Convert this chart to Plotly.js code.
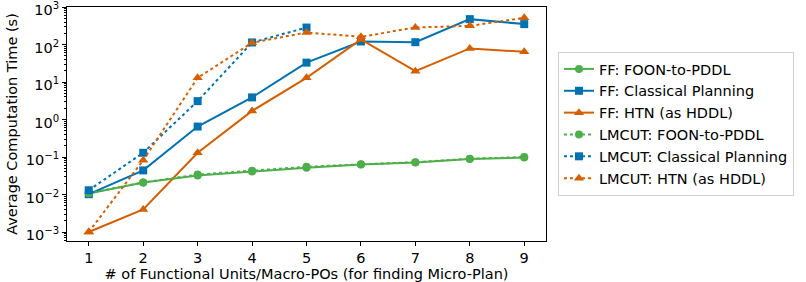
<!DOCTYPE html>
<html>
<head>
<meta charset="utf-8">
<script src="https://cdn.plot.ly/plotly-3.0.1.min.js"></script>
<style>html,body{margin:0;padding:0;background:#fff;}#chart{width:806px;height:282px;}</style>
</head>
<body>
<div id="chart"></div>
<script>
const xAll = [1, 2, 3, 4, 5, 6, 7, 8, 9];
const xClassicalLmcut = [1, 2, 3, 4, 5];

const ffFoon = [0.0106, 0.021, 0.032, 0.041, 0.052, 0.063, 0.072, 0.089, 0.097];
const ffClassical = [0.0102, 0.044, 0.65, 3.9, 33, 121, 116, 478, 352];
const ffHtn = [0.001, 0.004, 0.13, 1.7, 13, 137, 19.5, 79, 64];
const lmcutFoon = [0.0108, 0.021, 0.034, 0.043, 0.055, 0.064, 0.073, 0.09, 0.1];
const lmcutClassical = [0.013, 0.13, 3.1, 114, 285];
const lmcutHtn = [0.001, 0.082, 13, 112, 211, 161, 286, 316, 518];

const seriesNames = ["FF: FOON-to-PDDL", "FF: Classical Planning", "FF: HTN (as HDDL)",
  "LMCUT: FOON-to-PDDL", "LMCUT: Classical Planning", "LMCUT: HTN (as HDDL)"];

const yTickVals = [0.001, 0.01, 0.1, 1, 10, 100, 1000];
const yTickText = ["10<sup>−3</sup>", "10<sup>−2</sup>", "10<sup>−1</sup>", "10<sup>0</sup>", "10<sup>1</sup>", "10<sup>2</sup>", "10<sup>3</sup>"];

const GREEN = "#4daf4a", BLUE = "#0072b2", ORANGE = "#d55e00";

function tr(x, y, name, color, dash, symbol) {
  return {
    x: x, y: y, name: name, type: "scatter", mode: "lines+markers",
    line: {color: color, width: 2, dash: dash},
    marker: {color: color, symbol: symbol, size: symbol === "triangle-up" ? 9 : 8}
  };
}

const data = [
  tr(xAll, ffFoon, seriesNames[0], GREEN, "solid", "circle"),
  tr(xAll, ffClassical, seriesNames[1], BLUE, "solid", "square"),
  tr(xAll, ffHtn, seriesNames[2], ORANGE, "solid", "triangle-up"),
  tr(xAll, lmcutFoon, seriesNames[3], GREEN, "dot", "circle"),
  tr(xClassicalLmcut, lmcutClassical, seriesNames[4], BLUE, "dot", "square"),
  tr(xAll, lmcutHtn, seriesNames[5], ORANGE, "dot", "triangle-up")
];

const font = {family: "DejaVu Sans", size: 14.5, color: "#000"};

const layout = {
  width: 806, height: 282,
  margin: {l: 67, r: 260, t: 7, b: 41, pad: 0},
  paper_bgcolor: "#fff", plot_bgcolor: "#fff",
  font: font,
  showlegend: true,
  legend: {
    x: 1.025, y: 0.5, xanchor: "left", yanchor: "middle",
    bordercolor: "#d0d0d0", borderwidth: 1, bgcolor: "#fff",
    font: {family: "DejaVu Sans", size: 14.5, color: "#000"},
    tracegroupgap: 0, itemwidth: 30
  },
  xaxis: {
    range: [0.6, 9.4], tickvals: xAll, ticktext: xAll.map(String),
    showgrid: false, zeroline: false,
    showline: true, linecolor: "#000", linewidth: 1, mirror: true,
    ticks: "outside", ticklen: 4, tickwidth: 1, tickcolor: "#000",
    title: {text: "# of Functional Units/Macro-POs (for finding Micro-Plan)", font: font, standoff: 4}
  },
  yaxis: {
    type: "log", range: [-3.24, 3.003],
    tickvals: yTickVals, ticktext: yTickText,
    ticklabeloverflow: "allow", ticklabelshift: 3,
    showgrid: false, zeroline: false,
    showline: true, linecolor: "#000", linewidth: 1, mirror: true,
    ticks: "outside", ticklen: 4, tickwidth: 1, tickcolor: "#000",
    minor: {ticks: "outside", ticklen: 2, tickcolor: "#000", showgrid: false,
      tickvals: [0.002,0.003,0.004,0.005,0.006,0.007,0.008,0.009,
                 0.02,0.03,0.04,0.05,0.06,0.07,0.08,0.09,
                 0.2,0.3,0.4,0.5,0.6,0.7,0.8,0.9,
                 2,3,4,5,6,7,8,9,20,30,40,50,60,70,80,90,
                 200,300,400,500,600,700,800,900,0.0006,0.0007,0.0008,0.0009]},
    title: {text: "Average Computation Time (s)", font: font, standoff: 4}
  }
};

Plotly.newPlot("chart", data, layout, {displayModeBar: false, staticPlot: true});
</script>
</body>
</html>
